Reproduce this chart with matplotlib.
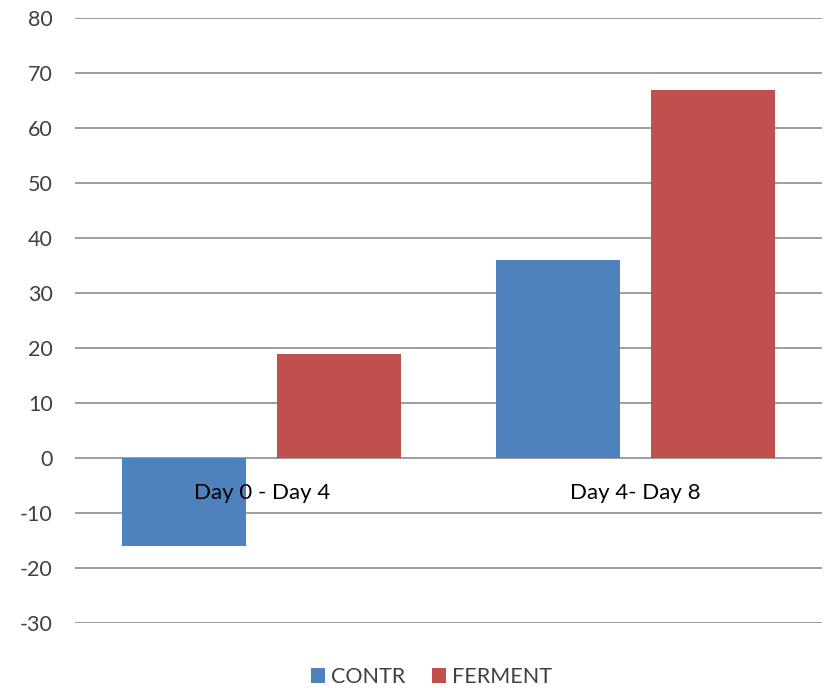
import numpy as np
import matplotlib.pyplot as plt
import matplotlib.transforms as mtransforms

plt.rcParams['font.family'] = ['Lato', 'DejaVu Sans']
plt.rcParams['axes.unicode_minus'] = False

categories = ['Day 0 - Day 4', 'Day 4- Day 8']
contr = [-16, 36]
ferment = [19, 67]

blue = '#4F81BD'
red = '#C0504D'
text_col = '#404040'
grid_col = '#8C8C8C'

fig = plt.figure(figsize=(8.25, 6.88), dpi=100)
ax = fig.add_axes([0.0909, 0.0945, 0.9055, 0.8793])

x = np.arange(len(categories))
w = 0.332
gap = 0.083
ax.bar(x - (w + gap) / 2, contr, w, color=blue, label='CONTR', zorder=3)
ax.bar(x + (w + gap) / 2, ferment, w, color=red, label='FERMENT', zorder=3)

ax.set_xlim(-0.5, len(categories) - 0.5)
ax.set_ylim(-30, 80)
ax.set_yticks(np.arange(-30, 81, 10))
ax.yaxis.grid(True, color=grid_col, linewidth=1.2, zorder=0)
ax.set_axisbelow(True)
ax.set_xticks([])
ax.tick_params(axis='y', length=0, pad=16, labelsize=15.5, labelcolor=text_col)
for s in ax.spines.values():
    s.set_visible(False)

# category names sit under the zero line, Excel style
off = mtransforms.offset_copy(ax.transData, fig=fig, x=0, y=-35, units='dots')
for i, c in enumerate(categories):
    ax.text(i, 0, c, transform=off, ha='center', va='center',
            fontsize=16, color='black', zorder=4)

fig.legend(loc='center', bbox_to_anchor=(0.523, 0.016), ncol=2,
           frameon=False, fontsize=15.5, handlelength=0.65, handleheight=0.65,
           handletextpad=0.3, columnspacing=1.2, labelcolor=text_col,
           borderpad=0, borderaxespad=0)

fig.savefig('out.png')
